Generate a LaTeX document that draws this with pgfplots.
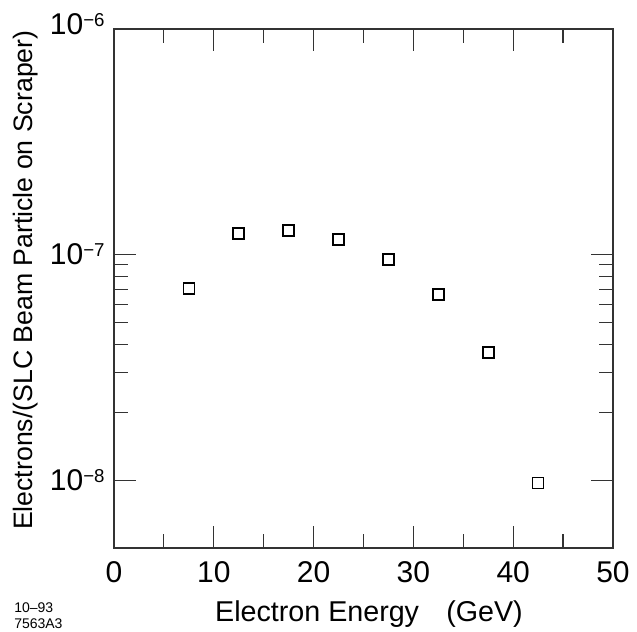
\documentclass[border=0pt]{standalone}
\usepackage{fontspec}
\setmainfont{Liberation Sans}
\usepackage{pgfplots}
\pgfplotsset{compat=1.18}
\newcommand\sups[1]{\raisebox{6pt}{\fontsize{14pt}{14pt}\selectfont #1}}
\begin{document}
\begin{tikzpicture}
\useasboundingbox (0pt,0pt) rectangle (477.75pt,474pt);
\begin{axis}[
  at={(85.5pt,63pt)}, anchor=south west,
  scale only axis, width=374.25pt, height=389.25pt,
  xmin=0, xmax=50, ymode=log, ymin=5e-9, ymax=1e-6,
  axis line style={line width=0.9pt, black!80},
  tick style={line width=0.9pt, black!80},
  major tick length=16.5pt, minor tick length=10.5pt,
  tick align=inside,
  xtick={0,10,20,30,40,50},
  xticklabels={0,10,20,30,40,50},
  minor x tick num=1,
  ytick={1e-8,1e-7},
  yticklabels={10\sups{−8},10\sups{−7}},
  extra y ticks={1e-6},
  extra y tick labels={10\sups{−6}},
  extra y tick style={yticklabel style={yshift=3.75pt}},
  ticklabel style={font=\fontsize{22.5pt}{26pt}\selectfont},
  xticklabel shift=6.5pt,
  yticklabel shift=3.5pt,
  xlabel={Electron Energy\hspace{0.95em}(GeV)},
  ylabel={Electrons/(SLC Beam Particle on Scraper)},
  xlabel style={font=\fontsize{21.5pt}{24pt}\selectfont, at={(axis description cs:0.511,-0.128)}, anchor=center},
  ylabel style={font=\fontsize{20pt}{24pt}\selectfont, at={(axis description cs:-0.177,0.516)}, anchor=center},
  clip=false,
]
\addplot[only marks, mark=square, mark size=4.1pt, mark options={line width=1.2pt, black}]
coordinates {
(7.5,7.07e-8)
(12.5,1.24e-7)
(17.5,1.28e-7)
(22.5,1.165e-7)
(27.5,9.5e-8)
(32.5,6.66e-8)
(37.5,3.68e-8)
(42.5,9.7e-9)
};
\end{axis}
\node[anchor=base west, inner sep=0, font=\fontsize{10.5pt}{12pt}\selectfont] at (10.5pt,14.25pt) {10–93};
\node[anchor=base west, inner sep=0, font=\fontsize{10.5pt}{12pt}\selectfont] at (10.5pt,2.25pt) {7563A3};
\end{tikzpicture}
\end{document}
